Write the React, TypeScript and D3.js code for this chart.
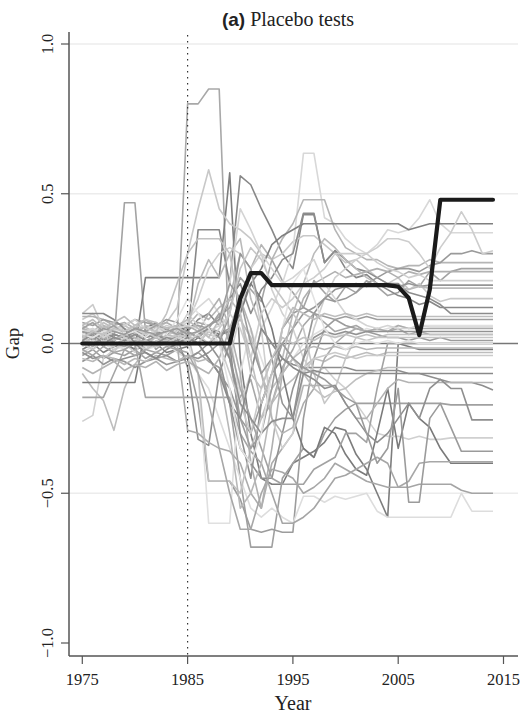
import React from "react";
import * as d3 from "d3";

const years: number[] = d3.range(1975, 2015);
const xTicks = [1975, 1985, 1995, 2005, 2015];
const yTicks = [-1, -0.5, 0, 0.5, 1];
const yTickLabels = ["\u22121.0", "\u22120.5", "0.0", "0.5", "1.0"];
const gridValues = [1, 0.5, -0.5];
const treatmentYear = 1985;

const treated = [
  0, 0, 0, 0, 0, 0, 0, 0, 0, 0, 0, 0, 0, 0, 0,
  0.15, 0.235, 0.235, 0.195, 0.195, 0.195, 0.195, 0.195, 0.195, 0.195,
  0.195, 0.195, 0.195, 0.195, 0.195, 0.19, 0.152, 0.028, 0.18, 0.48,
  0.48, 0.48, 0.48, 0.48, 0.48,
];

const s01 = [0.02,0.03,0.02,0.03,0.02, 0.03,0.02,0.03,0.02,0.02, 0.80,0.80,0.85,0.85,-0.05, -0.18,-0.12,-0.25,-0.20,-0.08, -0.02,0.06,0.10,0.07,0.04, 0.05,0.06,0.04,0.05,0.04, 0.05,0.03,0.04,0.03,0.03, 0.03,0.03,0.03,0.03,0.03];
const s02 = [0.05,0.04,0.03,0.00,0.47, 0.47,0.04,-0.02,0.01,0.03, 0.05,0.07,0.06,0.09,0.12, 0.22,0.18,0.14,0.28,0.21, 0.17,0.12,0.21,0.17,0.14, 0.19,0.17,0.21,0.19,0.16, 0.17,0.21,0.19,0.24,0.21, 0.24,0.25,0.25,0.25,0.25];
const s03 = [0.00,-0.02,0.01,-0.01,0.00, -0.02,0.22,0.22,0.22,0.22, 0.22,0.22,0.22,0.22,0.57, -0.05,-0.30,-0.45,-0.47,-0.47, -0.40,-0.38,-0.36,-0.33,-0.28, -0.29,-0.37,-0.42,-0.50,-0.58, 0.00,-0.01,-0.02,-0.02,-0.02, -0.02,-0.02,-0.02,-0.02,-0.02];
const s04 = [0.03,0.01,0.04,0.02,0.01, 0.02,0.00,0.03,0.05,0.04, 0.02,0.38,0.38,0.38,0.20, 0.56,0.53,0.45,0.38,0.30, 0.25,0.43,0.43,0.27,0.31, 0.25,0.22,0.23,0.20,0.18, 0.16,0.15,0.13,0.14,0.12, 0.12,0.12,0.12,0.12,0.12];
const s05 = [0.08,0.10,0.06,0.05,0.04, 0.06,0.08,0.05,0.07,0.12, 0.30,0.45,0.58,0.45,0.40, 0.38,0.35,0.30,0.28,0.30, 0.34,0.36,0.36,0.33,0.30, 0.27,0.28,0.25,0.22,0.20, 0.22,0.18,0.20,0.16,0.14, 0.15,0.15,0.15,0.15,0.15];
const s06 = [-0.01,0.01,0.02,0.00,-0.02, 0.01,0.03,0.00,0.02,0.05, 0.08,0.12,0.15,0.10,0.05, -0.20,-0.10,0.05,0.12,0.20, 0.31,0.635,0.635,0.42,0.40, 0.35,0.32,0.30,0.33,0.38, 0.37,0.38,0.42,0.48,0.40, 0.37,0.37,0.37,0.37,0.37];
const s07 = [0.05,0.03,0.06,0.04,0.05, 0.03,0.06,0.04,0.05,0.03, 0.06,0.10,0.08,0.12,0.15, 0.30,0.25,0.33,0.28,0.35, 0.40,0.48,0.48,0.48,0.38, 0.32,0.30,0.28,0.28,0.26, 0.25,0.26,0.26,0.28,0.27, 0.27,0.27,0.27,0.27,0.27];
const s08 = [-0.02,0.00,-0.03,-0.01,0.00, -0.02,-0.01,0.00,-0.03,-0.02, -0.01,0.02,0.00,0.03,0.05, 0.12,0.20,0.25,0.33,0.36, 0.38,0.40,0.40,0.40,0.40, 0.40,0.40,0.40,0.40,0.40, 0.40,0.38,0.39,0.40,0.40, 0.40,0.40,0.40,0.40,0.40];
const s09 = [0.04,0.02,0.05,0.03,0.02, 0.04,0.03,0.02,0.05,0.06, 0.04,0.08,0.10,0.06,0.15, 0.20,0.10,0.18,0.22,0.28, 0.30,0.435,0.435,0.27,0.31, 0.28,0.25,0.24,0.22,0.20, 0.20,0.17,0.16,0.15,0.13, 0.10,0.10,0.10,0.10,0.10];
const s10 = [0.01,0.00,0.02,0.01,0.03, 0.00,0.01,0.02,0.00,0.01, 0.03,0.00,-0.05,-0.10,-0.15, -0.25,-0.30,-0.20,-0.10,0.00, 0.05,0.10,0.12,0.15,0.14, 0.15,0.17,0.20,0.22,0.24, 0.25,0.25,0.24,0.26,0.27, 0.30,0.30,0.31,0.30,0.30];
const s11 = [-0.04,-0.02,-0.05,-0.03,-0.04, -0.02,-0.05,-0.03,-0.04,-0.02, -0.05,-0.03,-0.06,-0.08,-0.20, -0.45,-0.68,-0.68,-0.68,-0.45, -0.40,-0.35,-0.38,-0.30,-0.25, -0.22,-0.20,-0.20,-0.20,-0.20, -0.20,-0.20,-0.20,-0.20,-0.20, -0.205,-0.205,-0.205,-0.205,-0.205];
const s12 = [0.00,0.02,-0.01,0.01,0.03, 0.05,0.02,0.04,0.01,-0.02, -0.05,-0.20,-0.46,-0.46,-0.46, -0.52,-0.62,-0.63,-0.62,-0.63, -0.63,-0.25,-0.05,0.05,0.08, 0.06,0.05,0.04,0.03,0.02, 0.02,0.01,0.02,0.01,0.02, 0.01,0.01,0.01,0.01,0.01];
const s13 = [0.00,0.03,0.01,-0.01,0.02, 0.01,-0.01,0.00,0.02,0.03, 0.00,-0.10,-0.60,-0.60,-0.60, -0.10,0.05,-0.05,-0.15,-0.10, -0.05,0.00,0.03,0.05,0.02, 0.04,0.03,0.05,0.04,0.05, 0.06,0.05,0.06,0.06,0.06, 0.06,0.06,0.06,0.06,0.06];
const s14 = [-0.03,-0.01,0.00,-0.02,-0.01, 0.00,-0.02,-0.01,0.00,-0.03, -0.05,-0.10,-0.15,-0.25,-0.35, -0.45,-0.55,-0.58,-0.55,-0.58, -0.60,-0.51,-0.51,-0.53,-0.51, -0.52,-0.51,-0.50,-0.56,-0.58, -0.58,-0.58,-0.58,-0.58,-0.58, -0.58,-0.50,-0.56,-0.56,-0.56];
const s15 = [-0.26,-0.24,-0.05,-0.02,0.00, -0.03,0.02,0.05,0.03,0.04, 0.10,0.06,0.02,0.00,-0.05, 0.10,0.25,0.30,0.18,0.10, 0.05,-0.05,-0.10,-0.08,-0.12, -0.15,-0.20,-0.25,-0.30,-0.31, -0.31,-0.32,-0.31,-0.32,-0.32, -0.315,-0.315,-0.315,-0.315,-0.315];
const s16 = [-0.10,-0.15,-0.19,-0.29,-0.15, -0.07,-0.02,0.00,0.03,0.02, 0.03,0.00,0.04,0.02,0.05, 0.08,0.02,-0.10,-0.20,-0.15, -0.12,-0.08,-0.05,-0.06,-0.04, -0.05,-0.04,-0.03,-0.04,-0.03, -0.03,-0.03,-0.03,-0.03,-0.03, -0.03,-0.03,-0.03,-0.03,-0.03];
const s17 = [-0.13,-0.13,-0.13,-0.13,-0.13, -0.13,0.05,0.07,0.03,0.06, 0.04,0.02,0.05,0.03,0.04, 0.10,0.20,0.15,0.05,-0.10, -0.25,-0.35,-0.38,-0.28,-0.30, -0.37,-0.42,-0.44,-0.30,-0.15, -0.35,-0.20,-0.25,-0.28,-0.35, -0.40,-0.40,-0.40,-0.40,-0.40];
const s18 = [-0.18,-0.18,-0.18,-0.10,-0.02, 0.00,-0.18,-0.18,-0.18,-0.18, -0.18,-0.18,-0.18,-0.18,-0.18, -0.30,-0.36,-0.40,-0.50,-0.60, -0.60,-0.58,-0.55,-0.50,-0.45, -0.44,-0.42,-0.40,-0.38,-0.40, -0.48,-0.48,-0.47,-0.47,-0.47, -0.47,-0.49,-0.50,-0.50,-0.50];
const s19 = [0.02,0.04,0.01,0.03,0.02, 0.04,0.02,0.03,0.01,0.02, -0.08,-0.32,-0.34,-0.10,0.00, -0.30,-0.45,-0.20,-0.10,-0.05, -0.07,-0.08,-0.08,-0.08,-0.08, -0.08,-0.09,-0.09,-0.09,-0.09, -0.09,-0.10,-0.10,-0.11,-0.12, -0.13,-0.13,-0.13,-0.14,-0.155];
const s20 = [0.01,-0.01,0.02,0.00,-0.01, 0.01,0.00,-0.01,0.01,0.00, -0.29,-0.30,-0.33,-0.35,-0.36, -0.40,-0.50,-0.55,-0.40,-0.35, -0.30,-0.20,-0.15,-0.05,0.00, 0.03,0.05,0.04,0.05,0.04, 0.06,0.05,0.05,0.05,0.05, 0.05,0.05,0.05,0.05,0.05];
const s21 = [0.06,0.04,0.07,0.05,0.06, 0.04,0.06,0.05,0.04,0.06, 0.03,-0.10,-0.46,-0.46,-0.46, -0.50,-0.35,-0.25,-0.15,-0.10, -0.05,-0.10,-0.15,-0.18,-0.16, -0.15,-0.12,-0.10,-0.09,-0.08, -0.08,-0.08,-0.08,-0.08,-0.08, -0.08,-0.08,-0.08,-0.08,-0.08];
const s22 = [0.09,0.09,0.08,0.06,0.07, 0.05,0.08,0.06,0.07,0.05, 0.06,0.04,0.10,0.15,0.05, -0.10,-0.40,-0.55,-0.35,-0.10, 0.05,0.15,0.20,0.22,0.24, 0.22,0.23,0.24,0.25,0.24, 0.22,0.24,0.23,0.24,0.24, 0.24,0.24,0.24,0.24,0.24];
const s23 = [0.04,0.05,0.03,0.06,0.04, 0.05,0.03,0.04,0.06,0.05, 0.07,0.15,0.25,0.30,0.32, 0.30,0.25,0.05,-0.25,-0.35, -0.30,-0.10,0.05,0.15,0.22, 0.25,0.28,0.30,0.27,0.25, 0.24,0.22,0.23,0.21,0.21, 0.21,0.21,0.21,0.21,0.21];
const s24 = [-0.06,-0.04,-0.07,-0.05,-0.06, -0.08,-0.06,-0.05,-0.07,-0.06, -0.04,-0.05,-0.03,0.00,0.10, 0.30,0.25,0.10,-0.05,-0.20, -0.25,-0.05,0.10,0.15,0.18, 0.19,0.20,0.19,0.20,0.19, 0.19,0.20,0.19,0.195,0.195, 0.195,0.195,0.195,0.195,0.195];
const s25 = [0.00,0.02,0.04,0.01,0.03, 0.02,0.00,0.02,0.04,0.03, 0.05,0.20,0.28,0.22,0.30, 0.35,0.15,0.05,0.00,-0.05, 0.10,0.20,0.30,0.35,0.32, 0.28,0.25,0.22,0.20,0.19, 0.19,0.18,0.19,0.185,0.185, 0.185,0.185,0.185,0.185,0.185];
const s26 = [0.07,0.06,0.08,0.07,0.06, 0.08,0.07,0.06,0.08,0.07, 0.05,0.06,0.05,0.04,-0.05, -0.25,-0.35,-0.30,-0.15,0.05, 0.10,0.12,0.10,0.09,0.08, 0.09,0.08,0.09,0.08,0.08, 0.08,0.08,0.08,0.08,0.08, 0.08,0.08,0.08,0.08,0.08];
const s27 = [0.03,0.05,0.02,0.04,0.06, 0.08,0.05,0.06,0.04,0.05, 0.06,0.05,0.04,0.06,0.20, 0.45,0.38,0.30,0.25,0.20, 0.22,0.25,0.28,0.20,0.15, 0.10,0.08,0.06,0.05,0.06, 0.05,0.05,0.06,0.055,0.055, 0.055,0.055,0.055,0.055,0.055];
const s28 = [-0.03,-0.05,-0.04,-0.06,-0.05, -0.04,-0.03,-0.05,-0.04,-0.06, -0.05,-0.03,0.00,-0.05,-0.20, -0.35,-0.40,-0.45,-0.45,-0.30, -0.15,-0.05,0.02,0.04,0.03, 0.04,0.03,0.04,0.04,0.04, 0.04,0.04,0.04,0.04,0.04, 0.04,0.04,0.04,0.04,0.04];
const s29 = [0.02,0.00,0.03,0.05,0.02, 0.00,0.04,0.02,0.01,0.03, 0.02,0.04,0.03,0.02,0.10, 0.25,0.32,0.28,0.20,0.15, 0.10,0.05,-0.10,-0.20,-0.15, -0.05,0.02,0.01,0.02,0.02, 0.02,0.02,0.02,0.02,0.02, 0.02,0.02,0.02,0.02,0.02];
const s30 = [0.05,0.07,0.04,0.06,0.03, 0.05,0.04,0.06,0.05,0.03, 0.04,0.02,0.05,0.10,0.00, -0.15,-0.25,-0.35,-0.45,-0.47, -0.47,-0.47,-0.42,-0.40,-0.38, -0.30,-0.30,-0.33,-0.15,0.00, 0.00,0.00,0.00,0.00,0.00, 0.00,0.00,0.00,0.00,0.00];
const s31 = [-0.05,-0.06,-0.04,-0.05,-0.07, -0.05,-0.06,-0.04,-0.05,-0.06, -0.04,-0.06,-0.05,-0.10,-0.30, -0.55,-0.50,-0.40,-0.20,-0.10, -0.05,-0.02,-0.01,-0.02,-0.01, -0.02,-0.01,-0.02,-0.015,-0.015, -0.015,-0.015,-0.015,-0.015,-0.015, -0.015,-0.015,-0.015,-0.015,-0.015];
const s32 = [0.10,0.13,0.05,-0.03,0.02, 0.00,-0.02,0.01,0.00,-0.01, 0.02,0.00,0.05,0.00,-0.10, -0.20,-0.30,-0.15,-0.05,0.00, -0.05,-0.10,-0.05,-0.04,-0.03, -0.04,-0.05,-0.04,-0.04,-0.04, -0.04,-0.04,-0.04,-0.04,-0.04, -0.04,-0.04,-0.04,-0.04,-0.04];
const s33 = [0.10,0.10,0.10,0.08,0.05, 0.00,-0.03,-0.05,-0.02,0.00, 0.02,0.00,-0.05,-0.10,-0.20, -0.25,-0.10,0.05,0.00,-0.05, -0.08,-0.10,-0.09,-0.10,-0.10, -0.10,-0.10,-0.10,-0.10,-0.10, -0.10,-0.10,-0.10,-0.10,-0.10, -0.10,-0.10,-0.10,-0.10,-0.10];
const s34 = [-0.08,-0.10,-0.08,-0.06,-0.09, -0.07,-0.08,-0.06,-0.09,-0.07, -0.06,-0.08,-0.10,-0.05,0.05, 0.15,0.05,-0.10,-0.25,-0.30, -0.28,-0.14,-0.14,-0.14,-0.14, -0.20,-0.25,-0.25,-0.20,-0.15, -0.12,-0.13,-0.13,-0.13,-0.13, -0.13,-0.13,-0.13,-0.13,-0.13];
const s35 = [-0.02,-0.04,-0.01,-0.03,-0.02, -0.04,-0.02,-0.03,-0.01,-0.02, -0.03,-0.10,-0.20,-0.35,-0.50, -0.62,-0.62,-0.50,-0.42,-0.43, -0.45,-0.50,-0.48,-0.45,-0.40, -0.42,-0.44,-0.46,-0.47,-0.48, -0.48,-0.46,-0.40,-0.395,-0.395, -0.395,-0.395,-0.395,-0.395,-0.395];
const s36 = [0.01,0.03,0.00,0.02,0.01, 0.03,0.01,0.00,0.02,0.01, 0.00,0.03,0.05,0.02,-0.05, -0.20,-0.25,-0.30,-0.26,-0.25, -0.25,-0.10,-0.12,-0.15,-0.14, -0.20,-0.25,-0.30,-0.33,-0.30, -0.25,-0.20,-0.25,-0.15,-0.12, -0.15,-0.15,-0.255,-0.255,-0.255];
const s37 = [0.03,0.02,0.04,0.05,0.03, 0.04,0.02,0.05,0.03,0.08, 0.15,0.10,0.05,0.00,-0.15, -0.35,-0.40,-0.30,-0.10,0.05, 0.20,0.25,0.15,0.05,0.00, -0.02,0.00,0.01,0.00,0.01, 0.00,0.01,0.00,0.00,0.00, 0.00,0.00,0.00,0.00,0.00];
const s38 = [0.06,0.08,0.05,0.07,0.09, 0.06,0.08,0.07,0.05,0.06, 0.08,0.05,0.02,0.08,0.15, 0.10,-0.05,-0.20,-0.10,0.05, 0.12,0.10,0.08,0.10,0.09, 0.10,0.09,0.10,0.09,0.09, 0.09,0.09,0.09,0.09,0.09, 0.09,0.09,0.09,0.09,0.09];
const s39 = [0.00,-0.02,0.01,-0.01,0.02, 0.00,0.01,-0.01,0.00,0.02, 0.01,0.03,0.00,0.05,0.10, 0.05,-0.05,0.10,0.15,0.12, 0.15,0.20,0.22,0.25,0.30, 0.30,0.30,0.30,0.32,0.35, 0.35,0.34,0.30,0.25,0.32, 0.37,0.44,0.38,0.30,0.31];
const s40 = [0.04,0.03,0.05,0.04,0.03, 0.05,0.04,0.03,0.04,0.05, 0.03,0.04,0.06,0.08,0.20, 0.15,0.00,-0.10,-0.05,0.00, -0.05,-0.08,-0.10,-0.12,-0.15, -0.18,-0.20,-0.30,-0.40,-0.35, -0.15,-0.53,-0.53,-0.25,-0.20, -0.28,-0.36,-0.36,-0.36,-0.36];
const s41 = [0.02,0.04,0.03,0.05,0.04, 0.06,0.05,0.04,0.10,0.20, 0.30,0.35,0.35,0.35,0.30, 0.10,-0.10,-0.15,-0.05,0.02, 0.00,0.02,0.01,0.03,0.02, 0.03,0.02,0.03,0.02,0.03, 0.03,0.03,0.03,0.03,0.03, 0.03,0.03,0.03,0.03,0.03];

const placebos: number[][] = [s01,s02,s03,s04,s05,s06,s07,s08,s09,s10,s11,s12,s13,s14,s15,s16,s17,s18,s19,s20,s21,s22,s23,s24,s25,s26,s27,s28,s29,s30,s31,s32,s33,s34,s35,s36,s37,s38,s39,s40,s41];
const placeboColors = ["#a8a8a8","#a3a3a3","#7d7d7d","#888888","#c8c8c8","#d8d8d8","#b5b5b5","#7f7f7f","#8c8c8c","#9a9a9a","#a0a0a0","#9c9c9c","#e0e0e0","#dddddd","#d0d0d0","#bdbdbd","#7a7a7a","#a5a5a5","#8e8e8e","#acacac","#c0c0c0","#b0b0b0","#cfcfcf","#959595","#bababa","#9e9e9e","#d4d4d4","#929292","#c6c6c6","#a2a2a2","#b8b8b8","#cbcbcb","#8a8a8a","#b3b3b3","#a7a7a7","#8f8f8f","#e2e2e2","#bebebe","#cdcdcd","#9b9b9b","#c2c2c2"];

const W = 520;
const H = 717;
const axisLeft = 69;
const axisRight = 518;
const axisBottom = 656;
const axisTop = 32;

export default function App() {
  const x = d3.scaleLinear().domain([1975, 2015]).range([82.3, 503.5]);
  const y = d3.scaleLinear().domain([-1, 1]).range([643, 44]);
  const line = d3
    .line<number>()
    .x((_, i) => x(years[i]))
    .y((d) => y(d));

  const serif = "'Liberation Serif', 'Times New Roman', serif";
  const sans = "'Liberation Sans', Arial, sans-serif";

  return (
    <svg
      width={W}
      height={H}
      style={{ position: "absolute", left: 0, top: 0, display: "block", background: "#fff" }}
    >
      {gridValues.map((g) => (
        <line key={"g" + g} x1={axisLeft} x2={axisRight} y1={y(g)} y2={y(g)} stroke="#ececec" strokeWidth={1.6} />
      ))}
      <line x1={axisLeft} x2={axisRight} y1={y(0)} y2={y(0)} stroke="#777" strokeWidth={1.3} />
      <g fill="none" strokeWidth={1.6} strokeLinejoin="round">
        {placebos.map((s, i) => (
          <path key={"p" + i} d={line(s) || ""} stroke={placeboColors[i % placeboColors.length]} />
        ))}
      </g>
      <line
        x1={x(treatmentYear)}
        x2={x(treatmentYear)}
        y1={35}
        y2={axisBottom}
        stroke="#333"
        strokeWidth={1.2}
        strokeDasharray="1.6 4.4"
      />
      <path d={line(treated) || ""} fill="none" stroke="#1a1a1a" strokeWidth={4.2} strokeLinejoin="round" strokeLinecap="round" />

      {/* axes */}
      <line x1={axisLeft} x2={axisLeft} y1={axisTop} y2={axisBottom} stroke="#555" strokeWidth={1.5} />
      <line x1={axisLeft} x2={axisRight} y1={axisBottom} y2={axisBottom} stroke="#555" strokeWidth={1.5} />
      {xTicks.map((t) => (
        <g key={"xt" + t}>
          <line x1={x(t)} x2={x(t)} y1={axisBottom} y2={axisBottom + 8} stroke="#555" strokeWidth={1.2} />
          <text x={x(t)} y={685} textAnchor="middle" fontFamily={serif} fontSize={16.5} fill="#222">
            {t}
          </text>
        </g>
      ))}
      {yTicks.map((t, i) => (
        <g key={"yt" + t}>
          <line x1={axisLeft - 8} x2={axisLeft} y1={y(t)} y2={y(t)} stroke="#555" strokeWidth={1.2} />
          <text
            transform={`translate(53,${y(t)}) rotate(-90)`}
            textAnchor="middle"
            fontFamily={serif}
            fontSize={16.5}
            fill="#222"
          >
            {yTickLabels[i]}
          </text>
        </g>
      ))}
      <text x={293} y={710} textAnchor="middle" fontFamily={serif} fontSize={20} fill="#222">
        Year
      </text>
      <text transform={`translate(19,${y(0)}) rotate(-90)`} textAnchor="middle" fontFamily={serif} fontSize={19} fill="#222">
        Gap
      </text>
      <text x={288} y={26} textAnchor="middle" fontSize={20} fill="#222">
        <tspan fontFamily={sans} fontWeight="bold" fontSize={19}>(a)</tspan>
        <tspan fontFamily={serif}> Placebo tests</tspan>
      </text>
    </svg>
  );
}
